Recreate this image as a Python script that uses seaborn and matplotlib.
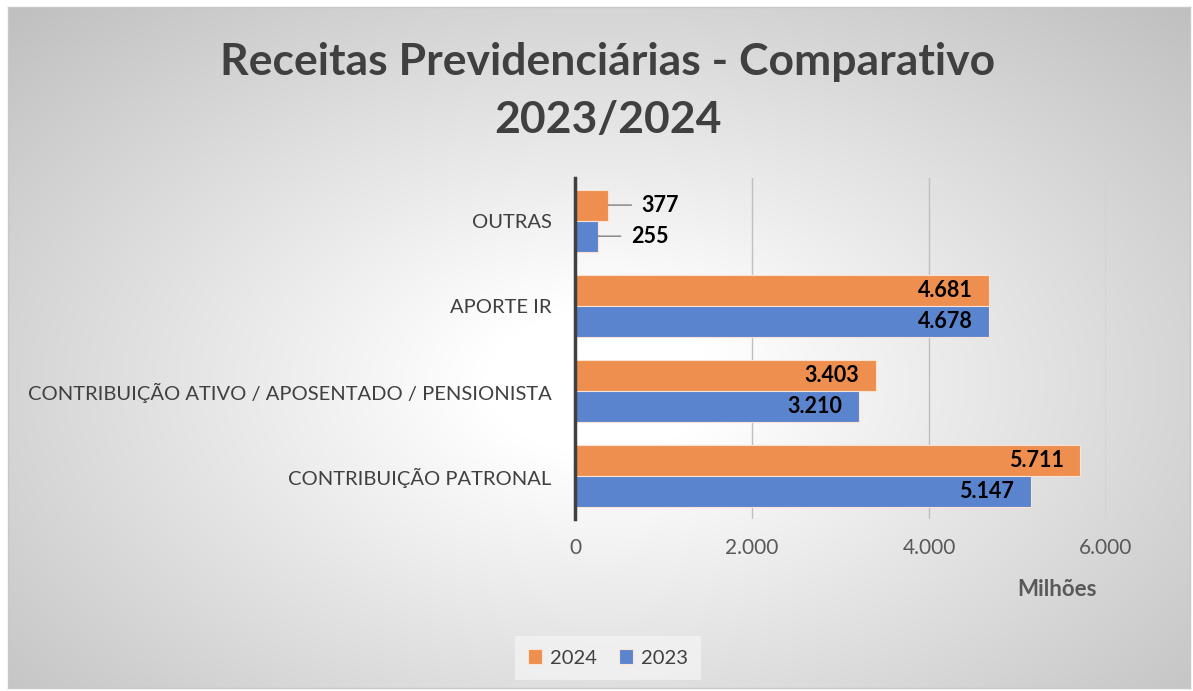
"""
Receitas Previdenciárias - comparativo 2023/2024 (barras horizontais)
"""

import numpy as np
import pandas as pd
import matplotlib.pyplot as plt
import seaborn as sns

# Dados (milhões)
categorias = ['OUTRAS', 'APORTE IR', 'CONTRIBUIÇÃO ATIVO / APOSENTADO / PENSIONISTA',
              'CONTRIBUIÇÃO PATRONAL']
valores_2024 = [377, 4681, 3403, 5711]
valores_2023 = [255, 4678, 3210, 5147]
anos = ['2024', '2023']
ticks_x = [0, 2000, 4000, 6000]
ticks_lbl = ['0', '2.000', '4.000', '6.000']

df = pd.DataFrame({
    'categoria': categorias * 2,
    'valor': valores_2024 + valores_2023,
    'ano': ['2024'] * 4 + ['2023'] * 4,
})

sns.set_style("white")
plt.rcParams['font.family'] = ['Lato', 'DejaVu Sans']

cores = {'2024': '#EE8F4F', '2023': '#5B84CF'}
txt = '#404040'

fig = plt.figure(figsize=(11.93, 6.91), dpi=100)

# fundo com gradiente radial
bg = fig.add_axes([8 / 1193, 3 / 691, 1182 / 1193, 681 / 691])
yy, xx = np.mgrid[0:300, 0:500]
r = np.sqrt(((xx - 250) / 250) ** 2 + ((yy - 165) / 165) ** 2) / np.sqrt(2)
shade = 1 - 0.25 * np.clip((r - 0.14) / 0.86, 0, 1)
bg.imshow(np.dstack([shade] * 3), aspect='auto', extent=(0, 1, 0, 1), zorder=0)
bg.set_xticks([])
bg.set_yticks([])
for s in bg.spines.values():
    s.set_color('#c8c8c8')
    s.set_linewidth(1)

ax = fig.add_axes([575 / 1193, 1 - 519 / 691, 531 / 1193, 341 / 691])
ax.patch.set_alpha(0)

sns.barplot(data=df, x='valor', y='categoria', hue='ano', hue_order=anos,
            order=categorias, palette=cores, orient='h', width=0.73,
            saturation=1, edgecolor='#fbe3d3', linewidth=0.8, ax=ax, legend=True)

ax.set_xlim(0, 6000)
ax.set_xticks(ticks_x)
ax.set_xticklabels(ticks_lbl, fontsize=15, color='#595959')
ax.tick_params(axis='x', length=0, pad=14)
ax.tick_params(axis='y', length=0, pad=17)
for lbl in ax.get_yticklabels():
    lbl.set_fontsize(14.5)
    lbl.set_color(txt)
ax.set_xlabel('')
ax.set_ylabel('')
ax.grid(axis='x', color='#bfbfbf', linewidth=1)
ax.set_axisbelow(True)
for s in ['top', 'right', 'bottom']:
    ax.spines[s].set_visible(False)
ax.spines['left'].set_color('#404040')
ax.spines['left'].set_linewidth(2.5)
ax.spines['left'].set_zorder(5)

# rótulos de dados
for cont in ax.containers:
    for bar in cont:
        v = bar.get_width()
        yc = bar.get_y() + bar.get_height() / 2
        rot = f'{v:,.0f}'.replace(',', '.')
        if v > 1000:
            ax.annotate(rot, xy=(v, yc), xytext=(-12, 0), textcoords='offset points',
                        ha='right', va='center', fontsize=15.5, fontweight='bold',
                        color='black')
        else:
            ax.annotate(rot, xy=(v, yc), xytext=(24, 0), textcoords='offset points',
                        ha='left', va='center', fontsize=15.5, fontweight='bold',
                        color='black',
                        arrowprops=dict(arrowstyle='-', color='#7f7f7f', lw=1,
                                        relpos=(0, 0.5), shrinkA=5, shrinkB=0))

leg = ax.legend(loc='center', bbox_to_anchor=(608 / 1193, 1 - 658 / 691),
                bbox_transform=fig.transFigure, ncol=2, frameon=True,
                fontsize=14.5, handlelength=0.7, handleheight=0.7,
                handletextpad=0.4, columnspacing=1.1, borderpad=0.35,
                borderaxespad=0)
leg.get_frame().set_facecolor('#f3f3f3')
leg.get_frame().set_edgecolor('none')
leg.get_frame().set_boxstyle('square')
for t in leg.get_texts():
    t.set_color(txt)

fig.text(608 / 1193, 1 - 62 / 691, 'Receitas Previdenciárias - Comparativo',
         ha='center', va='center', fontsize=32, fontweight='bold', color=txt)
fig.text(608 / 1193, 1 - 120 / 691, '2023/2024',
         ha='center', va='center', fontsize=32, fontweight='bold', color=txt)
fig.text(1057 / 1193, 1 - 590 / 691, 'Milhões', ha='center', va='center',
         fontsize=16, fontweight='bold', color='#595959')

fig.savefig('out.png', dpi=100)
